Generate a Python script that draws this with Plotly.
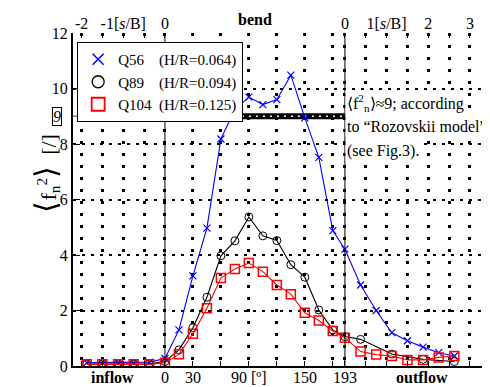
import plotly.graph_objects as go

# x axis is composite: inflow / outflow in s/B, bend in degrees
DEG_PER_SB = 44.7
BEND_END = 193

inflow_sb = [-1.875, -1.5, -1.125, -0.75, -0.375]
bend_deg = [0, 15, 30, 45, 60, 75, 90, 105, 120, 135, 150, 165, 180, 193]
outflow_sb = [0.375, 0.75, 1.125, 1.5, 1.875, 2.25, 2.625]
outflow_sb_q89 = [0.375, 1.125, 1.875, 2.625]

q56_in = [0.12, 0.12, 0.12, 0.12, 0.14]
q56_bend = [0.27, 1.30, 3.25, 4.97, 8.18, 9.24, 9.69, 9.42, 9.60, 10.48, 8.94, 7.52, 4.88, 4.21]
q56_out = [2.92, 2.00, 1.20, 0.91, 0.68, 0.48, 0.36]

q89_in = [0.07, 0.07, 0.07, 0.07, 0.08]
q89_bend = [0.16, 0.58, 1.38, 2.48, 3.97, 4.51, 5.37, 4.69, 4.52, 3.65, 3.20, 2.02, 1.30, 1.06]
q89_out = [0.96, 0.43, 0.24, 0.16]

q104_in = [0.06, 0.06, 0.06, 0.06, 0.06]
q104_bend = [0.12, 0.42, 1.16, 2.08, 3.17, 3.50, 3.71, 3.40, 2.92, 2.59, 1.92, 1.64, 1.26, 1.02]
q104_out = [0.52, 0.41, 0.36, 0.22, 0.22, 0.31, 0.36]

rozovskii = 9

names = ["Q56\u00a0\u00a0\u00a0\u00a0(H/R=0.064)",
         "Q89\u00a0\u00a0\u00a0\u00a0(H/R=0.094)",
         "Q104\u00a0\u00a0(H/R=0.125)"]

bottom_labels = {0: "0", 30: "30", 90: "90 [º]", 150: "150", 193: "193"}
top_in_labels = {-2: "-2", -1: "-1[<i>s</i>/B]"}
top_out_labels = {1: "1[<i>s</i>/B]", 2: "2", 3: "3"}

X_MIN, X_MAX = -98.6, 347.5
FONT = "Liberation Serif"


def x_in(sb):
    return [s * DEG_PER_SB for s in sb]


def x_out(sb):
    return [BEND_END + s * DEG_PER_SB for s in sb]


fig = go.Figure()

# Rozovskii reference level
fig.add_trace(go.Scatter(x=[X_MIN, 0], y=[rozovskii] * 2, mode='lines',
                         line=dict(color='#777777', width=1.5, dash='6px,4px'),
                         showlegend=False, hoverinfo='skip'))
fig.add_trace(go.Scatter(x=[0, BEND_END], y=[rozovskii] * 2, mode='lines',
                         line=dict(color='black', width=6),
                         showlegend=False, hoverinfo='skip'))
fig.add_trace(go.Scatter(x=[0, BEND_END], y=[rozovskii] * 2, mode='lines',
                         line=dict(color='white', width=1.5, dash='2px,5px'),
                         showlegend=False, hoverinfo='skip'))

series = [
    (q56_in, q56_bend, q56_out, outflow_sb, 'blue', 'x-thin', 7, 1.2),
    (q89_in, q89_bend, q89_out, outflow_sb_q89, 'black', 'circle-open', 8, 1.0),
    (q104_in, q104_bend, q104_out, outflow_sb, 'red', 'square-open', 9, 1.5),
]
for yin, ybend, yout, xo, col, sym, size, mlw in series:
    fig.add_trace(go.Scatter(
        x=x_in(inflow_sb) + bend_deg + x_out(xo),
        y=yin + ybend + yout,
        mode='lines+markers',
        line=dict(color=col, width=1.1),
        marker=dict(symbol=sym, size=size, color=col, line=dict(color=col, width=mlw)),
        showlegend=False,
    ))

# legend entries (markers only)
for name, (_, _, _, _, col, sym, size, mlw) in zip(names, series):
    fig.add_trace(go.Scatter(
        x=[None], y=[None], mode='markers', name=name, xaxis='x2',
        marker=dict(symbol=sym, size=size + 4, color=col, line=dict(color=col, width=mlw + 0.3)),
    ))

fig.add_vline(x=0, line=dict(color='black', width=1))
fig.add_vline(x=BEND_END, line=dict(color='black', width=1))

# bottom axis ticks / grid
grid_in = x_in([-2, -1.5, -1, -0.5])
grid_bend = [30, 60, 90, 120, 150, 180]
grid_out = x_out([0.5, 1, 1.5, 2, 2.5, 3, 3.5])
bvals = sorted(set(grid_in + [0] + grid_bend + [BEND_END] + grid_out))

# top axis: labelled ticks are major, half steps are minor
tvals = x_in(list(top_in_labels)) + [0, BEND_END] + x_out(list(top_out_labels))
ttext = list(top_in_labels.values()) + ["0", "0"] + list(top_out_labels.values())
tminor = x_in([-1.5, -0.5]) + x_out([0.5, 1.5, 2.5, 3.5])

# page has an 8px body margin, so the figure is shrunk by that much
fig.update_layout(
    width=482, height=379,
    margin=dict(l=65, r=1, t=25, b=21),
    plot_bgcolor='white', paper_bgcolor='white',
    font=dict(family=FONT, size=16, color='black'),
    xaxis=dict(range=[X_MIN, X_MAX], tickvals=bvals, showticklabels=False, automargin=False,
               ticks='inside', ticklen=5, tickcolor='black', tickwidth=1,
               showline=True, linecolor='black', linewidth=2,
               showgrid=True, gridcolor='black', gridwidth=2.5, griddash='3px,9px',
               zeroline=False),
    xaxis2=dict(overlaying='x', matches='x', side='top', tickvals=tvals, ticktext=ttext,
                automargin=False,
                ticks='inside', ticklen=5, tickcolor='black', showgrid=False,
                minor=dict(tickvals=tminor, ticks='inside', ticklen=5, tickcolor='black',
                           showgrid=False),
                showline=False, zeroline=False),
    yaxis=dict(range=[0, 12], tickvals=[0, 2, 4, 6, 8, 10, 12], automargin=False,
               ticks='inside', ticklen=7, tickcolor='black',
               showline=True, linecolor='black', linewidth=2,
               showgrid=True, gridcolor='black', gridwidth=1.5, griddash='3px,6px',
               zeroline=False),
    legend=dict(x=0.01, y=0.973, xanchor='left', yanchor='top',
                bgcolor='white', bordercolor='black', borderwidth=1,
                font=dict(size=15), itemwidth=30, tracegroupgap=0),
    showlegend=True,
)

ann_font = dict(family=FONT, size=16, color='black')
for xv, lab in bottom_labels.items():
    fig.add_annotation(x=xv, y=0, xref='x', yref='paper', yanchor='top', yshift=-1,
                       text=lab, showarrow=False, font=ann_font)
fig.add_annotation(x=96.5, y=1, xref='x', yref='paper', yanchor='bottom', yshift=3,
                   text='<b>bend</b>', showarrow=False, font=ann_font)
fig.add_annotation(x=-55.8, y=0, xref='x', yref='paper', yanchor='top', yshift=-1,
                   text='<b>inflow</b>', showarrow=False, font=ann_font)
fig.add_annotation(x=276, y=0, xref='x', yref='paper', yanchor='top', yshift=-1,
                   text='<b>outflow</b>', showarrow=False, font=ann_font)
fig.add_annotation(x=-0.05, y=rozovskii, xref='paper', yref='y',
                   text='<i>9</i>', showarrow=False, font=ann_font,
                   bordercolor='black', borderwidth=1, borderpad=0, bgcolor='white')
fig.add_annotation(x=-0.11, y=0.58, xref='paper', yref='paper', textangle=-90,
                   text='<span style="font-size:30px">⟨</span>f<sub>n</sub><sup>2</sup>'
                        '<span style="font-size:30px">⟩</span>  [/]',
                   showarrow=False, font=dict(family=FONT, size=22, color='black'))

side_lines = ['⟨f<sup>2</sup><sub>n</sub>⟩≈9; according',
              'to “Rozovskii model”',
              '(see Fig.3).']
side_y = [9.49, 8.63, 7.73]
for txt, yy in zip(side_lines, side_y):
    fig.add_annotation(x=BEND_END, y=yy, xref='x', yref='y', xanchor='left', xshift=0,
                       text=txt, showarrow=False, font=ann_font,
                       bgcolor='white', borderpad=1)

fig.write_html("out.html")
